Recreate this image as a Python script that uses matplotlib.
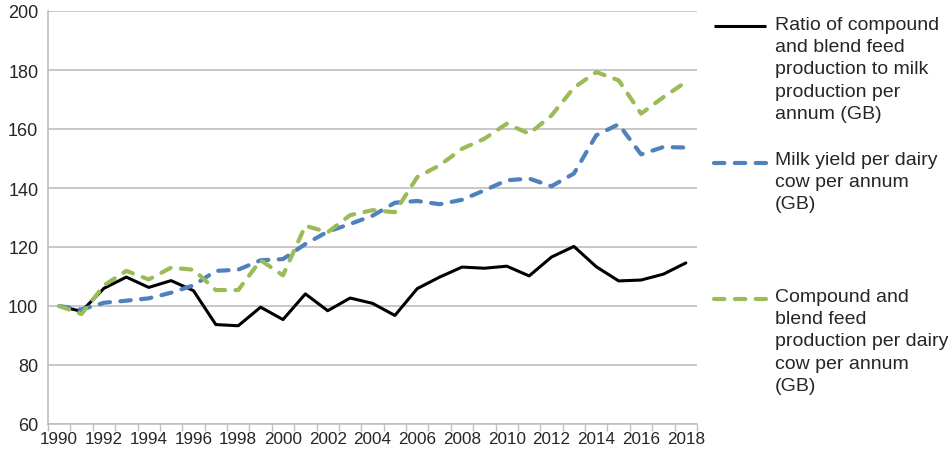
import numpy as np
import matplotlib.pyplot as plt
from matplotlib.lines import Line2D

plt.rcParams['font.family'] = ['Liberation Sans', 'DejaVu Sans']

years = list(range(1990, 2019))

# index, 1990 = 100
ratio = [100, 98.2, 106, 109.8, 106.3, 108.6, 105.2, 93.7, 93.3, 99.6,
         95.4, 104.1, 98.4, 102.7, 100.9, 96.8, 105.9, 109.8, 113.2, 112.8,
         113.5, 110.2, 116.6, 120.2, 113.3, 108.5, 108.8, 110.8, 114.6]
milk_yield = [100, 98.8, 101.1, 101.8, 102.6, 104.5, 107, 111.9, 112.3, 115.5,
              115.9, 121, 125.2, 127.8, 130.6, 135, 135.6, 134.5, 136, 139.2,
              142.6, 143.2, 140.6, 144.9, 157.9, 161.6, 151.4, 153.9, 153.7]
feed_per_cow = [100, 97.3, 107, 111.9, 109, 113, 112.3, 105.4, 105.4, 115.5,
                110.4, 127.2, 125, 130.8, 132.5, 131.8, 143.7, 147.7, 153.3, 156.7,
                161.8, 158.4, 164.6, 174, 179.3, 176.5, 165.2, 170.8, 175.9]

labels = ["Ratio of compound\nand blend feed\nproduction to milk\nproduction per\nannum (GB)",
          "Milk yield per dairy\ncow per annum\n(GB)",
          "Compound and\nblend feed\nproduction per dairy\ncow per annum\n(GB)"]

black = '#000000'
blue = '#4f81bd'
green = '#9bbb59'
grid = '#bfbfbf'
txt = '#262626'

W, H = 950, 456
fig = plt.figure(figsize=(9.5, 4.56), dpi=100)
ax = fig.add_axes([48 / W, 1 - 425 / H, (697 - 48) / W, (425 - 12) / H])

ax.plot(years, ratio, color=black, lw=2.2, solid_capstyle='round', zorder=3)
ax.plot(years, milk_yield, color=blue, lw=3.0, dashes=(2.5, 2.5),
        dash_capstyle='round', zorder=3)
ax.plot(years, feed_per_cow, color=green, lw=3.0, dashes=(2.5, 2.5),
        dash_capstyle='round', zorder=4)

ax.set_xlim(1989.5, 2018.5)
ax.set_ylim(60, 200)
ax.set_yticks(np.arange(60, 201, 20))
ax.set_xticks(years[::2])
ax.set_xticks(np.arange(1989.5, 2019, 1), minor=True)
ax.tick_params(axis='x', which='major', length=0, pad=5, labelsize=12.3, labelcolor=txt)
ax.tick_params(axis='x', which='minor', length=5, color=grid, width=1)
ax.tick_params(axis='y', length=0, pad=7, labelsize=13, labelcolor=txt)

ax.grid(axis='y', color=grid, lw=1.2)
ax.set_axisbelow(True)
for s in ['top', 'right']:
    ax.spines[s].set_visible(False)
for s in ['left', 'bottom']:
    ax.spines[s].set_color(grid)
    ax.spines[s].set_linewidth(1.2)

# legend drawn by hand, handle aligned with first text line
handles = [(black, 2.2, None, 27, 17), (blue, 3.0, (2.5, 2.5), 164, 152),
           (green, 3.0, (2.5, 2.5), 300, 289)]
for (c, lw, d, hy, ty), lab in zip(handles, labels):
    ln = Line2D([714 / W, 766 / W], [1 - hy / H, 1 - hy / H], color=c, lw=lw,
                transform=fig.transFigure, solid_capstyle='butt')
    if d is not None:
        ln.set_dashes(d)
        ln.set_dash_capstyle('round')
    fig.add_artist(ln)
    fig.text(775 / W, 1 - ty / H, lab, ha='left', va='top', fontsize=14,
             color=txt, linespacing=1.4)

fig.savefig('out.png', dpi=100)
